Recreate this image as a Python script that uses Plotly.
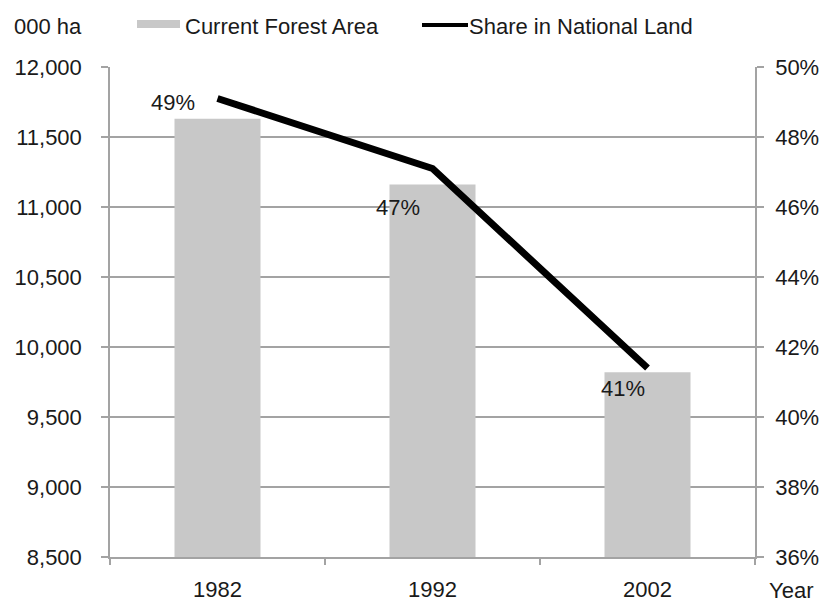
import plotly.graph_objects as go

# Forest statistics by survey year
years = ["1982", "1992", "2002"]
forest_area = [11630, 11160, 9820]      # 000 ha
land_share = [49.1, 47.1, 41.4]         # % of national land

# pixel offsets of the share labels relative to their points
label_dx = [-45, -35, -25]
label_dy = [-4, -39, -20]

FONT = "Liberation Sans, Arial, sans-serif"
GRID = "#a3a3a3"
BAR = "#c8c8c8"
INK = "#1a1a1a"
FS = 22

W, H = 821, 603
ML, MR, MT, MB = 110, 66, 67, 46
PW, PH = W - ML - MR, H - MT - MB


def px(x):
    return (x - ML) / PW


def py(y):
    return (H - MB - y) / PH


fig = go.Figure()
fig.add_trace(go.Bar(
    x=years, y=forest_area, name="Current Forest Area",
    marker=dict(color=BAR, line=dict(width=0)),
    showlegend=False, hoverinfo="x+y",
))
fig.add_trace(go.Scatter(
    x=years, y=land_share, name="Share in National Land", yaxis="y2",
    mode="lines", line=dict(color="#000000", width=7),
    showlegend=False,
))

annotations = []
# category positions are addressed by index on the category axis
for i, (v, dx, dy) in enumerate(zip(land_share, label_dx, label_dy)):
    annotations.append(dict(
        x=i, y=v, xref="x", yref="y2", text=f"{v:.0f}%", showarrow=False,
        xshift=dx, yshift=dy, font=dict(family=FONT, size=FS, color=INK),
    ))

# header texts: unit label, legend entries, x-axis name
annotations += [
    dict(x=px(12), y=py(26), xref="paper", yref="paper", text="000 ha",
         xanchor="left", yanchor="middle", showarrow=False,
         font=dict(family=FONT, size=FS, color=INK)),
    dict(x=px(183), y=py(26), xref="paper", yref="paper", text="Current Forest Area",
         xanchor="left", yanchor="middle", showarrow=False,
         font=dict(family=FONT, size=FS, color=INK)),
    dict(x=px(467), y=py(26), xref="paper", yref="paper", text="Share in National Land",
         xanchor="left", yanchor="middle", showarrow=False,
         font=dict(family=FONT, size=FS, color=INK)),
    dict(x=px(791), y=py(590), xref="paper", yref="paper", text="Year",
         xanchor="center", yanchor="middle", showarrow=False,
         font=dict(family=FONT, size=FS, color=INK)),
]

shapes = [
    dict(type="rect", xref="paper", yref="paper",
         x0=px(137), x1=px(180), y0=py(28), y1=py(20),
         fillcolor=BAR, line=dict(width=0)),
    dict(type="line", xref="paper", yref="paper",
         x0=px(422), x1=px(468), y0=py(25), y1=py(25),
         line=dict(color="#000000", width=4)),
]

fig.update_layout(
    width=W, height=H, autosize=False,
    margin=dict(l=ML, r=MR, t=MT, b=MB, pad=0, autoexpand=False),
    paper_bgcolor="white", plot_bgcolor="white",
    font=dict(family=FONT, size=FS, color=INK),
    bargap=0.6, showlegend=False,
    annotations=annotations, shapes=shapes,
    xaxis=dict(
        type="category", categoryorder="array", categoryarray=years,
        range=[-0.5, len(years) - 0.5], autorange=False, automargin=False,
        showline=True, linecolor=GRID, linewidth=1.5,
        ticks="outside", tickson="boundaries", ticklen=6, tickcolor=GRID, tickwidth=1.5,
        showgrid=False, ticklabelstandoff=12, tickangle=0,
        tickfont=dict(family=FONT, size=FS, color=INK),
    ),
    yaxis=dict(
        range=[8500, 12000], dtick=500, tick0=8500, tickformat=",",
        automargin=False,
        showline=True, linecolor=GRID, linewidth=1.5,
        ticks="outside", ticklen=7, tickcolor=GRID, tickwidth=1.5,
        showgrid=True, gridcolor=GRID, gridwidth=1.5, zeroline=False,
        ticklabelstandoff=15,
        tickfont=dict(family=FONT, size=FS, color=INK),
    ),
    yaxis2=dict(
        range=[36, 50], dtick=2, tick0=36, ticksuffix="%",
        overlaying="y", side="right", automargin=False,
        showline=True, linecolor=GRID, linewidth=1.5,
        ticks="outside", ticklen=7, tickcolor=GRID, tickwidth=1.5,
        showgrid=False, zeroline=False, ticklabelstandoff=7,
        tickfont=dict(family=FONT, size=FS, color=INK),
    ),
)

fig.write_html("out.html")
